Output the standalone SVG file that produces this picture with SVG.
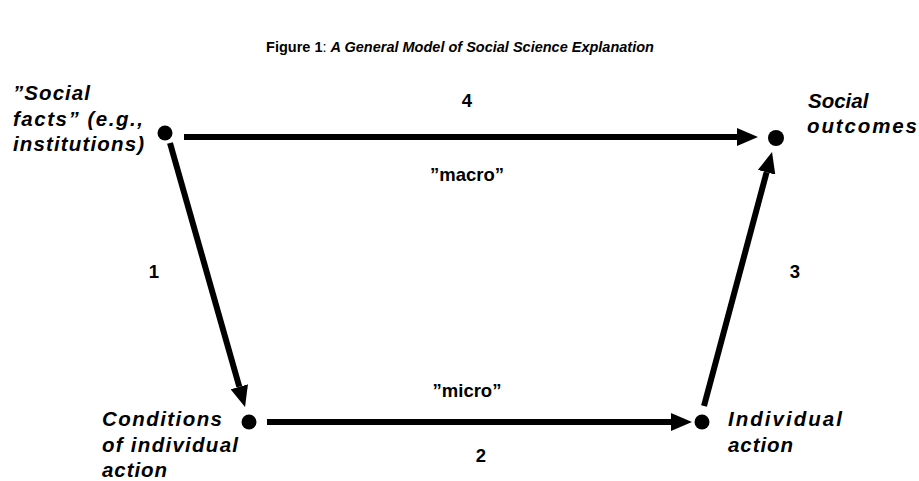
<svg xmlns="http://www.w3.org/2000/svg" width="919" height="481" viewBox="0 0 919 481">
<style>
text{font-family:"Liberation Sans",Arial,sans-serif;font-weight:bold;fill:#000}
.lbl{font-style:italic;font-size:20.5px}
.num{font-size:18.5px;text-anchor:middle}
.conn line{stroke:#000;stroke-width:6}
.dot{fill:#000}
</style>
<defs>
<marker id="ah" markerUnits="userSpaceOnUse" markerWidth="21" markerHeight="18" refX="0" refY="9" orient="auto" viewBox="0 0 21 18">
<path d="M0,0 L21,9 L0,18 z" fill="#000"/>
</marker>
</defs>
<text x="460" y="52" text-anchor="middle" style="font-size:14.5px">Figure 1<tspan font-weight="normal">:</tspan> <tspan font-style="italic">A General Model of Social Science Explanation</tspan></text>
<g class="conn">
<line x1="184" y1="137" x2="737" y2="137" marker-end="url(#ah)"/>
<line x1="267" y1="422" x2="671" y2="422" marker-end="url(#ah)"/>
<line x1="170" y1="143" x2="239.3" y2="386.8" marker-end="url(#ah)"/>
<line x1="704" y1="406" x2="766.6" y2="172.3" marker-end="url(#ah)"/>
</g>
<g id="social-facts">
<circle class="dot" cx="165" cy="133" r="7.5"/>
<text class="lbl" x="13" y="100" textLength="77" lengthAdjust="spacing">”Social</text>
<text class="lbl" x="13" y="126" textLength="130" lengthAdjust="spacing">facts” (e.g.,</text>
<text class="lbl" x="13" y="151" textLength="131" lengthAdjust="spacing">institutions)</text>
</g>
<g id="social-outcomes">
<circle class="dot" cx="776" cy="138" r="8"/>
<text class="lbl" x="808" y="108">Social</text>
<text class="lbl" x="807" y="133" textLength="110" lengthAdjust="spacing">outcomes</text>
</g>
<g id="conditions">
<circle class="dot" cx="249" cy="422" r="7.5"/>
<text class="lbl" x="102" y="426" textLength="120" lengthAdjust="spacing">Conditions</text>
<text class="lbl" x="102" y="452" textLength="136" lengthAdjust="spacing">of individual</text>
<text class="lbl" x="102" y="477" textLength="65" lengthAdjust="spacing">action</text>
</g>
<g id="individual-action">
<circle class="dot" cx="702" cy="422" r="7.5"/>
<text class="lbl" x="728" y="426" textLength="114" lengthAdjust="spacing">Individual</text>
<text class="lbl" x="728" y="452" textLength="65" lengthAdjust="spacing">action</text>
</g>
<g id="labels">
<text class="num" x="467" y="107">4</text>
<text class="num" x="467" y="181">”macro”</text>
<text class="num" x="154" y="278">1</text>
<text class="num" x="795" y="278">3</text>
<text class="num" x="467" y="397">”micro”</text>
<text class="num" x="481" y="462">2</text>
</g>
</svg>
